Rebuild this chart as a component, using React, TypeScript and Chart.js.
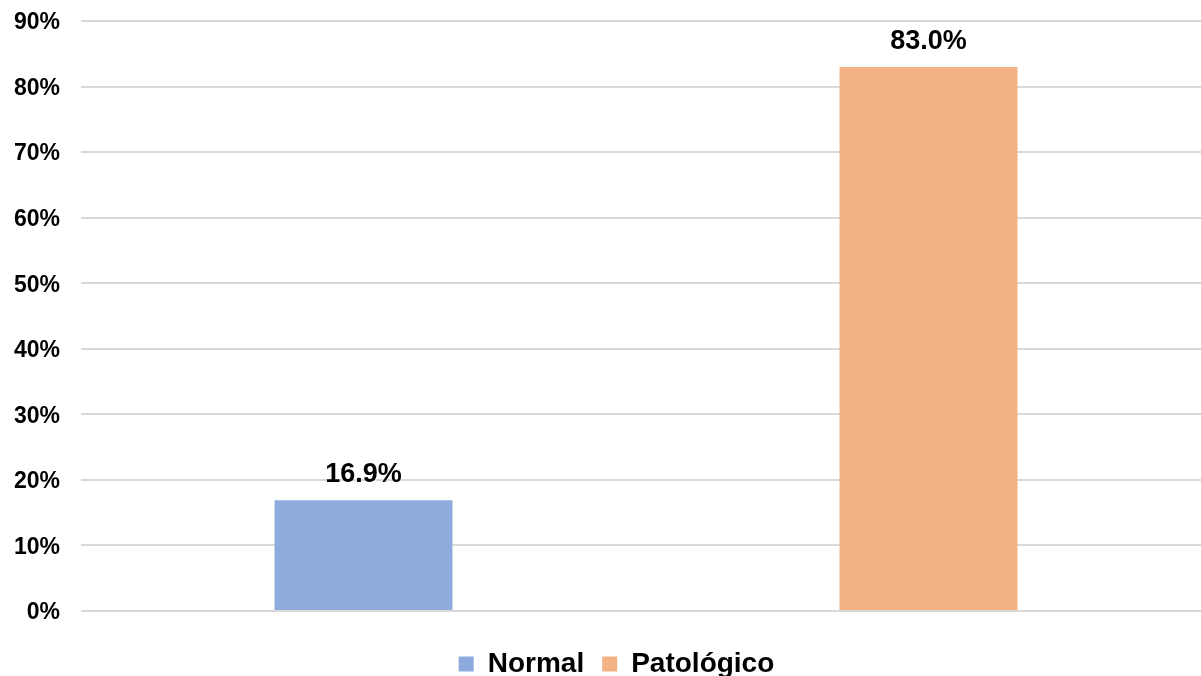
import React, { useEffect, useRef } from "react";
import { Chart, registerables } from "chart.js";

Chart.register(...registerables);

const categories = ["Normal", "Patológico"];
const normalValues = [16.9, null];
const patologicoValues = [null, 83.0];
const seriesNames = ["Normal", "Patológico"];
const seriesColors = ["#8FAADC", "#F4B183"];
const yTicksMax = 90;
const yStep = 10;

const FONT = "'Liberation Sans', Arial, sans-serif";

const valueLabels = {
  id: "valueLabels",
  afterDatasetsDraw(chart: any) {
    const ctx = chart.ctx;
    ctx.save();
    ctx.font = `bold 27px ${FONT}`;
    ctx.fillStyle = "#000000";
    ctx.textAlign = "center";
    ctx.textBaseline = "alphabetic";
    chart.data.datasets.forEach((ds: any, di: number) => {
      const meta = chart.getDatasetMeta(di);
      meta.data.forEach((el: any, i: number) => {
        const v = ds.data[i];
        if (v === null || v === undefined) return;
        ctx.fillText(v.toFixed(1) + "%", el.x, el.y - 18);
      });
    });
    ctx.restore();
  },
};

const legendShift = {
  id: "legendShift",
  afterLayout(chart: any) {
    if (chart.legend) {
      chart.legend.left += 4;
      chart.legend.right += 4;
    }
  },
};

export default function App() {
  const ref = useRef<HTMLCanvasElement | null>(null);
  useEffect(() => {
    document.body.style.margin = "0";
    const canvas = ref.current!;
    const chart = new Chart(canvas, {
      type: "bar",
      data: {
        labels: categories,
        datasets: [
          {
            label: seriesNames[0],
            data: normalValues,
            backgroundColor: seriesColors[0],
            borderWidth: 0,
          },
          {
            label: seriesNames[1],
            data: patologicoValues,
            backgroundColor: seriesColors[1],
            borderWidth: 0,
          },
        ],
      },
      options: {
        responsive: false,
        animation: false,
        layout: { padding: { top: 21, left: 14, right: 0, bottom: 0 } },
        datasets: {
          bar: { grouped: false, categoryPercentage: 1, barPercentage: 0.315 },
        },
        scales: {
          x: {
            display: true,
            grid: { display: false },
            border: { display: false },
            ticks: { display: false },
            afterFit: (scale: any) => {
              scale.height = 21;
              scale.paddingLeft = 0;
              scale.paddingRight = 0;
            },
          },
          y: {
            min: 0,
            max: yTicksMax,
            grid: { color: "#D9D9D9", lineWidth: 2, drawTicks: false },
            border: { display: false },
            afterFit: (scale: any) => {
              scale.width = 67;
              scale.paddingTop = 0;
              scale.paddingBottom = 0;
            },
            ticks: {
              stepSize: yStep,
              padding: 21,
              labelOffset: 2,
              color: "#000000",
              font: { family: FONT, size: 23, weight: "bold" },
              callback: (v: any) => v + "%",
            },
          },
        },
        plugins: {
          tooltip: { enabled: false },
          legend: {
            position: "bottom",
            labels: {
              boxWidth: 15,
              boxHeight: 15,
              padding: 18,
              color: "#000000",
              font: { family: FONT, size: 28, weight: "bold" },
            },
          },
        },
      },
      plugins: [valueLabels, legendShift],
    });
    return () => chart.destroy();
  }, []);
  return (
    <div style={{ width: 1201, height: 676, overflow: "hidden", position: "relative" }}>
      <canvas ref={ref} width={1211} height={688} style={{ display: "block" }} />
    </div>
  );
}
